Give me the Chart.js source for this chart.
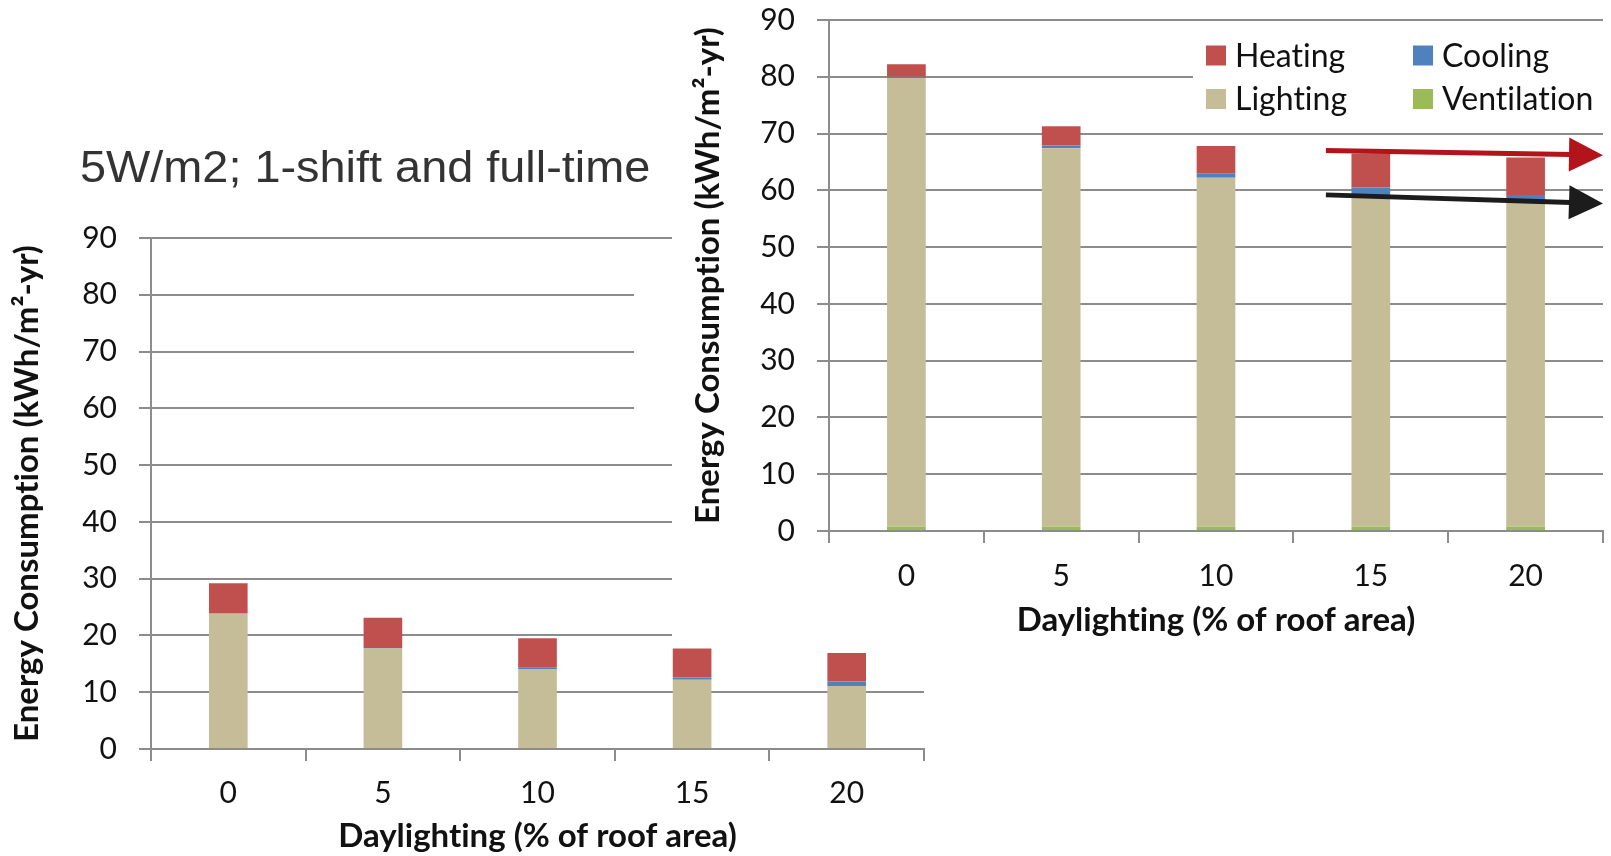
<!DOCTYPE html>
<html>
<head>
<meta charset="utf-8">
<script src="https://cdn.jsdelivr.net/npm/chart.js@4.4.1/dist/chart.umd.min.js"></script>
<style>
html,body{margin:0;padding:0;background:#fff;width:1611px;height:856px;overflow:hidden;}
#wrap{position:relative;width:1611px;height:856px;}
#leftCanvas{position:absolute;left:0;top:0;}
#rightCanvas{position:absolute;left:672px;top:0;background:#fff;}
#title{position:absolute;left:80px;top:145px;font-family:"Liberation Sans",Arial,sans-serif;font-size:44px;line-height:44px;color:#333;white-space:nowrap;transform:scaleX(1.065);transform-origin:0 0;}
#patch{position:absolute;left:634px;top:255px;width:38px;height:195px;background:#fff;}
</style>
</head>
<body>
<div id="wrap">
  <canvas id="leftCanvas" width="940" height="856"></canvas>
  <div id="title">5W/m2; 1-shift and full-time</div>
  <canvas id="rightCanvas" width="939" height="640"></canvas>
  <div id="patch"></div>
</div>
<script>
// ---------- data ----------
const categories = ['0', '5', '10', '15', '20'];
const yTickValues = [0, 10, 20, 30, 40, 50, 60, 70, 80, 90];
const seriesNames = ['Ventilation', 'Lighting', 'Cooling', 'Heating'];
const legendOrder = ['Heating', 'Cooling', 'Lighting', 'Ventilation'];

// left chart: 5W/m2; 1-shift and full-time
const leftVentilation = [0, 0, 0, 0, 0];
const leftLighting    = [23.8, 17.7, 14.1, 12.2, 11.1];
const leftCooling     = [0.1, 0.1, 0.2, 0.4, 0.8];
const leftHeating     = [5.3, 5.3, 5.2, 5.1, 5.0];

// right chart
const rightVentilation = [0.8, 0.8, 0.8, 0.8, 0.8];
const rightLighting    = [79.0, 66.6, 61.4, 58.4, 57.3];
const rightCooling     = [0.2, 0.5, 0.8, 1.3, 1.1];
const rightHeating     = [2.2, 3.4, 4.8, 6.0, 6.6];

// trend arrows (category index, value)
const redArrowFrom   = [2.71, 67.0];
const redArrowTo     = [4.5, 66.2];
const blackArrowFrom = [2.71, 59.2];
const blackArrowTo   = [4.5, 57.7];

const xTitle = 'Daylighting (% of roof area)';
const yTitle = 'Energy Consumption (kWh/m\u00B2-yr)';

// ---------- styles ----------
const colors = {Ventilation:'#9BBB59', Lighting:'#C4BD97', Cooling:'#4F81BD', Heating:'#C0504D'};
const gridColor = '#8c8c8c';
const textColor = '#111';
const tickFont = {family:'Lato', size:30};
const titleFont = {family:'Lato', size:33, weight:'bold'};

function makeDatasets(vent, light, cool, heat){
  const vals = {Ventilation:vent, Lighting:light, Cooling:cool, Heating:heat};
  return seriesNames.map(n => ({
    label:n, data:vals[n], backgroundColor:colors[n], borderWidth:0,
    categoryPercentage:1.0, barPercentage:0.25
  }));
}

const noLigaturePlugin = {
  id:'noLigatures',
  beforeDraw(chart){ try { chart.ctx.textRendering = 'optimizeSpeed'; } catch(e) {} }
};

function makeOptions(cfg){
  return {
    responsive:false, animation:false, devicePixelRatio:1, events:[],
    layout:{padding:cfg.padding},
    plugins:{legend:{display:false}, tooltip:{enabled:false}, title:{display:false}},
    scales:{
      x:{
        stacked:true, offset:true,
        grid:{offset:true, drawOnChartArea:false, drawTicks:true, tickLength:12, color:gridColor, lineWidth:2},
        border:{color:gridColor, width:2},
        ticks:{font:tickFont, color:textColor, padding:cfg.xTickPad, maxRotation:0},
        title:{display:true, text:xTitle, font:titleFont, color:textColor, padding:{top:0, bottom:cfg.xTitlePad}},
        afterFit: s => { s.height = cfg.xHeight; s.paddingLeft = 0; s.paddingRight = 0; }
      },
      y:{
        stacked:true, min:0, max:90,
        afterBuildTicks: s => { s.ticks = yTickValues.map(v => ({value:v})); },
        grid:{drawTicks:true, tickLength:12, color:gridColor, lineWidth:2},
        border:{color:gridColor, width:2},
        ticks:{font:tickFont, color:textColor, padding:22},
        title:{display:true, text:yTitle, font:titleFont, color:textColor, padding:{top:cfg.yTitlePad, bottom:0}},
        afterFit: s => { s.width = cfg.yWidth; s.paddingTop = 0; s.paddingBottom = 0; }
      }
    }
  };
}

// ---------- left chart ----------
new Chart(document.getElementById('leftCanvas'), {
  type:'bar',
  data:{labels:categories, datasets:makeDatasets(leftVentilation, leftLighting, leftCooling, leftHeating)},
  options:makeOptions({padding:{left:0, top:238, right:16, bottom:0}, xHeight:107, yWidth:151, xTitlePad:0, yTitlePad:8, xTickPad:14}),
  plugins:[noLigaturePlugin]
});

// ---------- right chart plugins ----------
const arrowPlugin = {
  id:'trendArrows',
  afterDatasetsDraw(chart){
    const {ctx} = chart; const xs = chart.scales.x, ys = chart.scales.y;
    const arrows = [
      {from:redArrowFrom, to:redArrowTo, color:'#B3141B'},
      {from:blackArrowFrom, to:blackArrowTo, color:'#1c1c1c'}
    ];
    arrows.forEach(a => {
      const x1 = xs.getPixelForValue(a.from[0]), y1 = ys.getPixelForValue(a.from[1]);
      const x2 = xs.getPixelForValue(a.to[0]),   y2 = ys.getPixelForValue(a.to[1]);
      const ang = Math.atan2(y2 - y1, x2 - x1);
      const hl = 34, hw = 17;
      const bx = x2 - hl * Math.cos(ang), by = y2 - hl * Math.sin(ang);
      ctx.save();
      ctx.strokeStyle = a.color; ctx.lineWidth = 5; ctx.lineCap = 'butt';
      ctx.beginPath(); ctx.moveTo(x1, y1); ctx.lineTo(bx + 2*Math.cos(ang), by + 2*Math.sin(ang)); ctx.stroke();
      ctx.fillStyle = a.color;
      ctx.beginPath();
      ctx.moveTo(x2, y2);
      ctx.lineTo(bx - hw * Math.sin(ang), by + hw * Math.cos(ang));
      ctx.lineTo(bx + hw * Math.sin(ang), by - hw * Math.cos(ang));
      ctx.closePath(); ctx.fill();
      ctx.restore();
    });
  }
};

const gridLegendPlugin = {
  id:'gridLegend',
  afterDraw(chart){
    const {ctx, chartArea} = chart;
    const boxLeft = chartArea.right - 410;
    ctx.save();
    ctx.fillStyle = '#fff';
    ctx.fillRect(boxLeft, 27, chart.width - boxLeft, 95);
    const colX = [boxLeft + 13, boxLeft + 220];
    const rowY = [55.5, 99];
    ctx.font = '32px Lato';
    ctx.textBaseline = 'middle'; ctx.textAlign = 'left';
    legendOrder.forEach((name, i) => {
      const ds = chart.data.datasets.find(d => d.label === name);
      const cx = colX[i % 2], cy = rowY[Math.floor(i / 2)];
      ctx.fillStyle = ds.backgroundColor;
      ctx.fillRect(cx, cy - 10, 20, 20);
      ctx.fillStyle = textColor;
      ctx.fillText(name, cx + 29, cy + 1);
    });
    ctx.restore();
  }
};

// ---------- right chart ----------
new Chart(document.getElementById('rightCanvas'), {
  type:'bar',
  data:{labels:categories, datasets:makeDatasets(rightVentilation, rightLighting, rightCooling, rightHeating)},
  options:makeOptions({padding:{left:0, top:20, right:8, bottom:0}, xHeight:109, yWidth:157, xTitlePad:0, yTitlePad:17, xTickPad:15}),
  plugins:[noLigaturePlugin, arrowPlugin, gridLegendPlugin]
});
</script>
</body>
</html>
